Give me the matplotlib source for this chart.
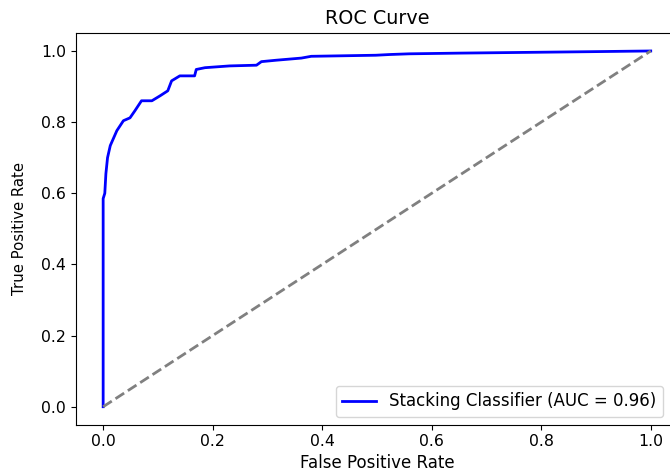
import matplotlib
matplotlib.use("Agg")
import matplotlib.pyplot as plt

# ROC points
fpr = [0.0, 0.0, 0.003, 0.005, 0.008, 0.013, 0.025, 0.037, 0.049, 0.058, 0.070,
       0.089, 0.104, 0.118, 0.125, 0.140, 0.167, 0.170, 0.186, 0.231, 0.280,
       0.289, 0.316, 0.362, 0.380, 0.498, 0.523, 0.559, 0.653, 0.890, 1.0]
tpr = [0.0, 0.585, 0.60, 0.655, 0.70, 0.734, 0.776, 0.804, 0.812, 0.832, 0.860,
       0.860, 0.874, 0.888, 0.916, 0.930, 0.930, 0.948, 0.953, 0.958, 0.960,
       0.970, 0.974, 0.980, 0.985, 0.988, 0.990, 0.992, 0.994, 0.998, 1.0]
auc_value = 0.96

fig = plt.figure(figsize=(6.7, 4.74), dpi=100)
ax = fig.add_axes([0.1131, 0.1044, 0.899, 0.8256])

ax.plot(fpr, tpr, color="blue", lw=2,
        label=f"Stacking Classifier (AUC = {auc_value:.2f})")
ax.plot([0, 1], [0, 1], color="gray", lw=2, linestyle="--")

ax.set_xlim(-0.05, 1.05)
ax.set_ylim(-0.05, 1.05)
ax.tick_params(labelsize=11.3)
ax.set_xlabel("False Positive Rate", fontsize=12)
ax.set_ylabel("True Positive Rate", fontsize=10.7)
ax.xaxis.set_label_coords(0.5, -0.076)
ax.yaxis.set_label_coords(-0.081, 0.5)
ax.set_title("ROC Curve", fontsize=13.8, pad=6.5)
ax.legend(loc="lower right", bbox_to_anchor=(0.975, 0.019),
          borderaxespad=0, fontsize=12)

fig.savefig("out.png")
